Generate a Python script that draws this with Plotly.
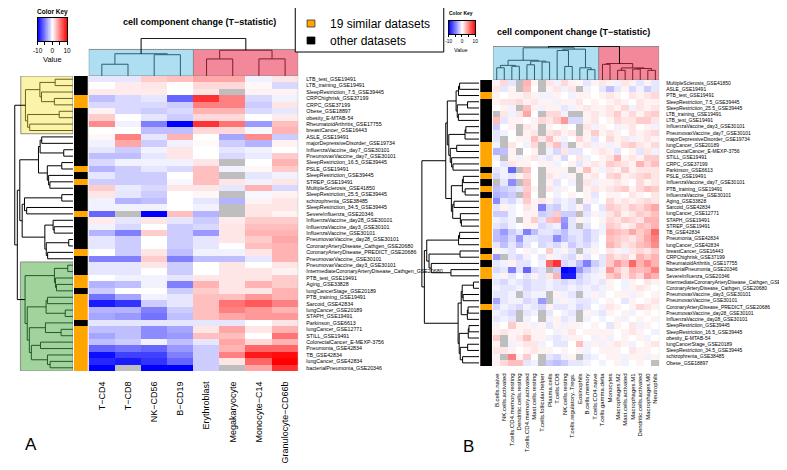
import numpy as np
import plotly.graph_objects as go

W, H = 787, 470
nan = None

# ---------------- data: panel A ----------------
cols_A = ["T−CD4", "T−CD8", "NK−CD56", "B−CD19", "Erythroblast",
          "Megakaryocyte", "Monocyte−C14", "Granulocyte−CD66b"]
rows_A = ["LTB_test_GSE19491", "LTB_training_GSE19491", "SleepRestriction_7.5_GSE39445",
          "CRPChighrisk_GSE37199", "CRPC_GSE37199", "Obese_GSE18897", "obesity_E-MTAB-54",
          "RheumatoidArthritis_GSE17755", "breastCancer_GSE16443", "ASLE_GSE19491",
          "majorDepressiveDisorder_GSE19734", "InfluenzaVaccine_day7_GSE30101",
          "PneumovaxVaccine_day7_GSE30101", "SleepRestriction_16.5_GSE39445", "PSLE_GSE19491",
          "SleepRestriction_GSE39445", "STREP_GSE19491", "MultipleSclerosis_GSE41850",
          "SleepRestriction_25.5_GSE39445", "schizophrenia_GSE38485",
          "SleepRestriction_34.5_GSE39445", "SevereInfluenza_GSE20346",
          "InfluenzaVaccine_day28_GSE30101", "InfluenzaVaccine_day3_GSE30101",
          "InfluenzaVaccine_GSE30101", "PneumovaxVaccine_day28_GSE30101",
          "CoronaryArteryDisease_Cathgen_GSE20680", "CoronaryArteryDisease_PREDICT_GSE20686",
          "PneumovaxVaccine_GSE30101", "PneumovaxVaccine_day3_GSE30101",
          "IntermediateCoronaryArteryDisease_Cathgen_GSE20680", "PTB_test_GSE19491",
          "Aging_GSE33828", "lungCancerStage_GSE20189", "PTB_training_GSE19491",
          "Sarcoid_GSE42834", "lungCancer_GSE20189", "STAPH_GSE19491", "Parkinson_GSE6613",
          "lungCancer_GSE12771", "STILL_GSE19491", "ColorectalCancer_E-MEXP-3756",
          "Pneumonia_GSE42834", "TB_GSE42834", "lungCancer_GSE42834",
          "bacterialPneumonia_GSE20346"]
vals_A = [
    [-1, -1, 2, 2.5, 3.5, 3.5, -0.5, 1],
    [0, 0.8, 1, 0, 1.5, 1.5, 0.3, -1.5],
    [0.8, 0.8, 0.8, 0, 1, nan, 0.5, 0.5],
    [-2.5, -1.5, -1, -6, 8, 5, -1.5, -0.5],
    [-1.5, -1.5, -1.5, -2, 5, 5, -2, 1],
    [0.5, -1.5, -2, -1.5, 3, 3, -1.5, -1],
    [2, 0, -1, -2, 1.5, 1.5, 0, 0.8],
    [4.5, -0.5, -5, -10, 8, 5.5, -4, 2.5],
    [0, 0, -2.5, -2.5, 1.5, 1.5, -0.3, 3],
    [0.3, 5, -1, 3, 0, -3.5, 4.5, -2],
    [-0.5, 3.5, -2, -0.5, 0.2, -2, -3, 0.5],
    [-1, -2, -0.5, 1, 0, -1, -0.5, 0],
    [-2.5, -2.5, -1, 1, 0, -1.5, -0.8, 2],
    [-1.5, -0.5, -0.5, -0.5, 1, nan, 0, 3],
    [-3, -2, -1, -1.5, 2.5, -0.5, 0.3, 2],
    [-1, -2, -2, 0, 2.5, nan, -1, -0.5],
    [-2, -2, -2, -0.3, 2.5, 1, -0.5, 1],
    [2, -0.8, -1.5, 1, 1, -1, 3, -1.5],
    [1, -1, -2, 0, 0.3, nan, -0.3, 0.5],
    [-0.5, -3, -2.5, 0, -1, -3, 0.5, 1],
    [-0.5, -0.5, -0.5, 0, -0.5, nan, 1, 1],
    [-6, nan, -10, 2.5, -3, nan, 1, 0.5],
    [0.8, -1, 1, -1, -2, 0.8, 2, 2],
    [-0.5, -1.5, 0, -2, -1.5, 1, 2.5, 2.5],
    [-3, -5, 2, -2, -4, 1, 3, 3],
    [-1, -2, 0, -2, -1, 1, 2, 3.5],
    [-1, -2, 0, -2, -1, 0, 2.5, 3],
    [0, -2, 1, -2.5, -0.5, -0.5, 1, 3],
    [-5, -5, 2, -5, -2.5, -2.5, -1, 3],
    [-1, -1, 1, -2, 0, 1, 0, 1],
    [-1, -1, 0, -2, 0, 1, 1, 0.5],
    [0, -0.5, -0.5, -1, 1, 1, 1, 2],
    [-3, -2.5, -0.5, -5, 3, 1, 3, 2],
    [-2, 0, 0, -2, 2, 1, 1, 3],
    [-5.5, -3.5, -0.5, -1, 2.5, 2.5, 4, 3],
    [-9, -8, -2, -1, 2.5, 5.5, 6.5, 5],
    [-3, -3, -5, -2, 2.5, 5, 4, 3],
    [-3.5, -4, -5.5, -2.5, 2.5, 3.5, 4, 4],
    [-1, -1, -1, -1, -1, -1, 0, 1],
    [-2.5, -2.5, -4.5, -3.5, 1, 3.5, 1, 3],
    [-3.5, -2.5, -4.5, -4, 2.5, 2.5, 0, 5.5],
    [-2.5, -2, -0.5, -2.5, -1, 3.5, 1.5, 3],
    [-6, -5.5, -6, -4, -2, 3, 6, 6],
    [-9.5, -7.5, -7.5, -5, -2, 5, 9, 9.5],
    [-8.5, -9, -8, -6, -2, 1, 6, 10],
    [-10, nan, -10, -10, -2, nan, 3.5, 8],
]

# ---------------- data: panel B ----------------
cols_B = ["B.cells.naive", "NK.cells.activated", "T.cells.CD4.memory.resting",
          "Dendritic.cells.resting", "T.cells.CD4.memory.activated", "Mast.cells.resting",
          "T.cells.follicular.helper", "Plasma.cells", "T.cells.CD8", "NK.cells.resting",
          "T.cells.regulatory..Tregs.", "Eosinophils", "B.cells.memory", "T.cells.CD4.naive",
          "T.cells.gamma.delta", "Monocytes", "Macrophages.M2", "Mast.cells.activated",
          "Macrophages.M1", "Dendritic.cells.activated", "Macrophages.M0", "Neutrophils"]
rows_B = ["MultipleSclerosis_GSE41850", "ASLE_GSE19491", "PTB_test_GSE19491",
          "SleepRestriction_7.5_GSE39445", "SleepRestriction_25.5_GSE39445",
          "LTB_training_GSE19491", "LTB_test_GSE19491", "InfluenzaVaccine_day3_GSE30101",
          "PneumovaxVaccine_day7_GSE30101", "majorDepressiveDisorder_GSE19734",
          "lungCancer_GSE20189", "ColorectalCancer_E-MEXP-3756", "STILL_GSE19491",
          "CRPC_GSE37199", "Parkinson_GSE6613", "PSLE_GSE19491",
          "InfluenzaVaccine_day7_GSE30101", "PTB_training_GSE19491",
          "InfluenzaVaccine_GSE30101", "Aging_GSE33828", "Sarcoid_GSE42834",
          "lungCancer_GSE12771", "STAPH_GSE19491", "STREP_GSE19491", "TB_GSE42834",
          "Pneumonia_GSE42834", "lungCancer_GSE42834", "breastCancer_GSE16443",
          "CRPChighrisk_GSE37199", "RheumatoidArthritis_GSE17755",
          "bacterialPneumonia_GSE20346", "SevereInfluenza_GSE20346",
          "IntermediateCoronaryArteryDisease_Cathgen_GSE20680",
          "CoronaryArteryDisease_Cathgen_GSE20680", "PneumovaxVaccine_day3_GSE30101",
          "PneumovaxVaccine_GSE30101", "CoronaryArteryDisease_PREDICT_GSE20686",
          "PneumovaxVaccine_day28_GSE30101", "InfluenzaVaccine_day28_GSE30101",
          "SleepRestriction_GSE39445", "SleepRestriction_16.5_GSE39445",
          "obesity_E-MTAB-54", "lungCancerStage_GSE20189",
          "SleepRestriction_34.5_GSE39445", "schizophrenia_GSE38485", "Obese_GSE18897"]
vals_B = [
    [0.5, 1.5, -1, nan, 3, 0.5, nan, 1, -0.5, 1.5, 0.5, 0.3, -1, 0.5, 1, 0.5, -0.5, 1, 0.5, -1, 0.5, -1],
    [1, -1, 0.5, nan, 2.5, 0, nan, 0.5, 1, -0.5, 1, nan, -0.5, 0, -1, -2.5, -1, 0.5, -1.5, -0.5, -2, -1],
    [0.5, 0, 0.5, 0.5, 1, 0.5, -0.5, -0.5, 0.5, 0, -0.5, 0.5, 0.5, 0, 0.5, 1, 0.5, 0, 1, 0.5, 1, 1.5],
    [0.5, 1, 1, 1.5, 0.5, 1, 0.5, 0.5, -0.5, 0.5, 0.5, 1, 0, 0.5, 0, 0.5, 1, 0.5, 0, 1, 0.5, 0.5],
    [0, 0.5, -0.5, nan, 2.5, 0.5, -0.5, 0.5, 0.5, -1, -0.5, 0.5, 1, 0.5, 0.5, 1, 0.5, 1.5, -0.5, 1, 0.5, 1],
    [nan, 1, -0.5, 1, 3.5, 0, nan, 1.5, 1.5, -0.5, nan, nan, 0.5, 1, 0.5, 1, 2, 0.5, 1.5, 0.5, 1.5, 2],
    [2.5, -1, 0.5, 0.5, 0, 0.5, 1.5, 1, 2, 4, -1.5, -1.5, 0.5, 1, 0, 0.5, 1.5, 1, 1, 2, 2, 1],
    [-2, 0, 0.5, nan, 1, 0.5, nan, 0.5, 0, 0.5, 0, nan, 1, -0.5, 0.5, 0, -0.5, 0.5, 1, 0, 0.5, -0.5],
    [-1, -0.5, 0, nan, 0.5, 1, nan, 1, 1.5, 0.5, 1, nan, 0.5, 2, 0.5, 1, 0.5, 0, 1, 0.5, 1, 1.5],
    [-1, nan, 0, 0.5, 0.5, 2.5, 1, 2.5, 0.5, -0.5, 0, 1.5, 0.5, -1, 0, 1.5, 0.5, 1, -0.5, 0.5, 1, 0.5],
    [-0.5, nan, 1, 0, -0.5, 1.5, nan, 1, 2.5, -1, nan, 0.5, 1, -0.5, 0.5, -0.5, 0.5, 1.5, 2, 1, 0.5, 1.5],
    [-3, -2.5, 0.5, nan, 0, 0.5, nan, -0.5, -1.5, 1, -1, -1, 0, 0.5, 1, 0.5, -1, 0, 0.5, -1, 1, -0.5],
    [-0.5, nan, 0.5, -0.5, 0.5, 1, -0.5, -1, 0.5, -1.5, 0, 1, -0.5, 0, 0.5, 1, 3, 0.5, 1, 0.5, 2, 2],
    [0, -1, 1, 0.5, 0.5, 0, 0.5, 0.5, -0.5, 0, 0.5, -1, 0.5, 1, 0.5, 2, 1.5, 1, 0.5, 3, 1.5, 2.5],
    [-1, -0.5, -6, nan, 2.5, 0, nan, 0.5, 0.5, 0.5, nan, 0.5, 2.5, 0.5, -0.5, 1, 0.5, 2, 0.5, 1, 1, 1],
    [-1.5, -0.5, -1, 0.5, 1.5, 0, nan, 1, 0.5, -0.5, 0.5, nan, 0.5, 1, 0, 1.5, 2, 0.5, 1, 1.5, 2, 1],
    [nan, -1, -4.5, nan, 2.5, 0, nan, 0.5, -1, 0, -0.5, nan, 1, -0.5, 0.5, 0.5, 1, 0.5, 0, 1.5, 0.5, 1],
    [-2.5, -2, -1.5, -1, 2, 0.5, nan, 1, -0.5, 0.5, 0, nan, 0.5, 1, 0.5, 1, 1.5, 2, 0.5, 1.5, 2.5, 2],
    [-3, -2.5, -2, nan, 2.5, 0, nan, 0, -0.5, 0, 0.5, 0, 0.5, -1, 0, 0.5, 0.5, 0, 1, 0.5, 0, 1],
    [-4.5, -1, -1.5, -0.5, 2, 0.5, 1, 0.5, -1, -0.5, -1, nan, 0.5, -0.5, 0, 1.5, 0.5, 1, 0.5, 1, 1.5, 1],
    [-1, 0.5, -0.5, 0, 1, 0.5, -5, -1.5, -2, -0.5, -1, 0.5, -1.5, 0, -1, 2, 1.5, 1, 2, 1.5, 2.5, 3.5],
    [-2, -2, -0.5, 0, 0.5, 0.5, -2, -1.5, 2, -2, -2, nan, -1, 0.5, -0.5, 1, 2, 0.5, 1, 2, 1.5, 2.5],
    [-0.5, -1, -0.5, nan, 0.5, 2, -1, 2.5, 3, -4, -1, 0.5, -0.5, 0, 0.5, 1.5, 1, 2, 1.5, 1, 3, 3],
    [-1, -1.5, -0.5, 0, 0.5, 0.5, -1.5, -1, -0.5, -4.5, -1, nan, -1, 0, -0.5, 2, 1.5, 0.5, 1, 2.5, 2, 3],
    [-2.5, -4, -2, -1, -5, -2.5, -1, -1, -1.5, -2.5, -1, -1, -2, -1, -0.5, 3, 2.5, 2, 3.5, 2, 3, 6],
    [-2.5, -3, -1.5, -4, -1, -1, -1.5, -1.5, -4.5, -2.5, -1.5, -1, -2, -1, 0, 2.5, 2, 1.5, 1, 2, 3.5, 5],
    [-1, -2.5, -1, -2.5, -1, 0, -1.5, -1, -1.5, -0.5, -2, -1, -1.5, -0.5, 0, 3, 2, 1, 1.5, 2.5, 3, 4.5],
    [0.5, -0.5, -1, 0, 0.5, -0.5, 0, 2, -0.5, 0.5, -1, nan, -0.5, 0.5, 0, 1, 0.5, -0.5, 1, 1.5, 1, 2],
    [-4, nan, -1, -1.5, -0.5, 0, -1, 0.5, -0.5, -1, -1.5, 0.5, -1, 0, -1, 2, 1, 1.5, 0.5, 3, 2, 3],
    [-1, -0.5, 0.5, -1, -1, 0, -0.5, 6, 8, -1.5, -1, -2.5, -5, -2, -1, 2, 4, 2.5, 6, 3, 4.5, 3],
    [-1.5, -1, -5, -1, -6, -1.5, -1, nan, -2, -10, -9.5, -4, -2, -1, -0.5, 4, 2, 1, 3, 2.5, 3, 5],
    [-0.5, 0.5, -1, 0, -1, 0.5, -1, 1, 3, -9, -9, -2, -1, -0.5, 0.5, 2, 3, 1, 2.5, 1.5, 4, 3],
    [-1, -1.5, -0.5, -1, -1.5, -1, -1, -0.5, -1, -1.5, -1, -1.5, -1, -0.5, -1, 0.5, 0, -0.5, 0.5, 0, 1, 0.5],
    [-0.5, -1, -1, -0.5, -1.5, -1, -1, -0.5, -1, -1, -0.5, -1, -0.5, -1, -0.5, 0.5, 0, -0.5, 0.5, 1, 0.5, 0],
    [-1, -1, -0.5, nan, -1, -0.5, -0.5, nan, 0.5, -0.5, -1, nan, -0.5, 0.5, -0.5, 0, 0.5, 0.5, -0.5, 0.5, 0, 0.5],
    [-3.5, -1, -0.5, -0.5, -1.5, -1, -4, nan, -0.5, 0.5, -0.5, -1, -1, -0.5, 0, 0.5, 0, -1, 0.5, 0, 0.5, 1],
    [-1.5, -0.5, -1, -1.5, -0.5, -1, -1.5, 0.5, -1, -1, -0.5, -1.5, -1, 0, -0.5, 1, 0.5, 0, 0.5, 1.5, 1, 0.5],
    [-0.5, -1, -1.5, nan, -1, -0.5, nan, -1, 0, -0.5, -1, nan, 0.5, -0.5, -1, 0.5, 0, 0.5, -0.5, 0, 0.5, 0],
    [-1, -0.5, -1, nan, -0.5, 0, nan, -0.5, 0.5, -1, -0.5, nan, -0.5, 0, -0.5, 0, 0.5, -0.5, 0, 0.5, 0, 0.5],
    [0.5, 0, 2, 0.5, 0.5, -0.5, 0.5, -1, 0.5, -0.5, 0.5, 0.5, 0, 0.5, 0, -1, 0.5, 0, 1, -0.5, 0.5, 0],
    [0.5, 1, 0.5, 0.5, 1, 0.5, 0.5, 0, -0.5, 0.5, 1, 0, 0.5, 0.5, 0.5, 0.5, 0, 0.5, 1, 0.5, 0, -0.5],
    [2, nan, 0.5, 1, 2.5, 0.5, 0.5, -0.5, -1, -0.5, 0.5, 0.5, 0, -0.5, 0.5, -0.5, 0, 0.5, 0, 0.5, -0.5, 0],
    [0.5, nan, -0.5, 0.5, 1, 1, -0.5, 0, -1, -1, 0, 2.5, -0.5, 0.5, -0.5, 0.5, 1, 0.5, -0.5, 0, 0.5, 1],
    [1, 1, 0.5, 0, 0.5, 1, 0.5, 0.5, 0, 0.5, 0, 0.5, -0.5, 0, 0.5, 0.5, 0.5, 0, 1, 0.5, 0.5, 0],
    [0.5, nan, 5, 0.5, 2, 0, nan, -1, -1.5, -0.5, 0.5, nan, -1, -0.5, 0, 0.5, 0.5, -0.5, 0.5, 0.5, -0.5, 0.5],
    [0.5, 1.5, 2.5, 2.5, -1, -0.5, nan, -2, -2.5, -2, -1, -1, -0.5, 0, -0.5, 0, 0.5, -0.5, 0, 0.5, 0, nan],
]

similar_datasets = ["CRPChighrisk_GSE37199", "CRPC_GSE37199", "PSLE_GSE19491", "STREP_GSE19491",
                    "SevereInfluenza_GSE20346", "CoronaryArteryDisease_PREDICT_GSE20686",
                    "PTB_test_GSE19491", "Aging_GSE33828", "PTB_training_GSE19491",
                    "Sarcoid_GSE42834", "lungCancer_GSE20189", "STAPH_GSE19491",
                    "lungCancer_GSE12771", "STILL_GSE19491", "ColorectalCancer_E-MEXP-3756",
                    "Pneumonia_GSE42834", "TB_GSE42834", "lungCancer_GSE42834",
                    "bacterialPneumonia_GSE20346"]

# dendrogram topologies (leaf indices in display order)
tree_cols_A = [[[0, 1], [2, 3]], [[4, 5], [6, 7]]]
tree_rows_A = [[[[0, 1], [2, [3, 4]]], [[5, 6], [7, 8]]],
               [[[[[9, 10], [11, 12]], [[13, 14], [15, [16, 17]]]],
                 [[[18, 19], [20, 21]], [[22, [23, 24]], [[25, 26], [27, 28]]]]],
                [[[29, 30], [31, [32, 33]]],
                 [[[34, 35], [36, 37]], [[38, [39, 40]], [[41, 42], [43, [44, 45]]]]]]]]
tree_cols_B = [[[[[0, 1], [2, 3]], [[4, 5], [6, 7]]], [[8, [9, 10]], [11, [12, 13]]]],
               [[14, 15], [[16, 17], [[18, 19], [20, 21]]]]]
_b1 = [[[0, 1], 2], [[3, 4], [5, 6]]]
_b2 = [[[7, 8], 9], [[10, 11], [12, [13, 14]]]]
_b3 = [[[15, 16], [17, 18]], [[19, 20], [21, [22, 23]]]]
_b4 = [[[24, 25], 26], [[27, 28], [29, [30, 31]]]]
_b5 = [[[32, 33], [34, 35]], [[36, 37], 38]]
_b6 = [[[39, 40], 41], [[42, 43], [44, 45]]]
tree_rows_B = [[[_b1, _b2], _b3], [_b4, [_b5, _b6]]]

# ---------------- helpers ----------------
FONT = "Liberation Sans, Arial, sans-serif"
CS = [[0, "#0000FF"], [0.5, "#FFFFFF"], [1, "#FF0000"]]
BLUE_BOX, PINK_BOX = "#ADDEF2", "#F2889A"
YEL_BOX, GRN_BOX = "#FBF3A8", "#A3D39C"


def fx(p):
    return p / W


def fy(p):
    return 1 - p / H


def to_arr(v):
    return np.array([[np.nan if c is None else float(c) for c in r] for r in v])


def pdist(a, b):
    m = ~np.isnan(a) & ~np.isnan(b)
    if m.sum() == 0:
        return 0.0
    return float(np.sqrt(np.mean((a[m] - b[m]) ** 2) * len(a)))


def build_tree(tree, M):
    segs = []

    def rec(node):
        if isinstance(node, int):
            return float(node), 0.0, [node]
        lp, lh, lm = rec(node[0])
        rp, rh, rm = rec(node[1])
        d = float(np.mean([pdist(M[i], M[j]) for i in lm for j in rm]))
        h = max(d, max(lh, rh) * 1.04 + 0.1)
        segs.append((lp, lh, rp, rh, h, frozenset(lm + rm)))
        return (lp + rp) / 2, h, lm + rm

    rec(tree)
    return segs


def group_height(segs, members):
    s = frozenset(members)
    for seg in segs:
        if seg[5] == s:
            return seg[4]
    return max(seg[4] for seg in segs if seg[5] <= s)


def dendro_traces(segs, groups, orient, xa, ya):
    buckets = {}
    for lp, lh, rp, rh, h, mem in segs:
        col = "black"
        for g in groups:
            if mem <= frozenset(g["members"]):
                col = g["line"]
        xs, ys = buckets.setdefault(col, ([], []))
        pos = [lp, lp, rp, rp, None]
        hh = [lh, h, h, rh, None]
        if orient == "top":
            xs.extend(pos); ys.extend(hh)
        else:
            xs.extend(hh); ys.extend(pos)
    return [go.Scatter(x=xs, y=ys, mode="lines", line=dict(color=c, width=1),
                       xaxis=xa, yaxis=ya, hoverinfo="skip", showlegend=False)
            for c, (xs, ys) in buckets.items()]


MA = to_arr(vals_A)
MB = to_arr(vals_B)
nA, mA = MA.shape
nB, mB = MB.shape

fig = go.Figure()
shapes = []
annotations = []


def heat(M, xa, ya):
    return go.Heatmap(z=M, x=list(range(M.shape[1])), y=list(range(M.shape[0])),
                      colorscale=CS, zmin=-10, zmax=10, showscale=False,
                      xaxis=xa, yaxis=ya, hoverinfo="skip")


def sidebar(rows, xa, ya):
    z = [[1 if r in similar_datasets else 0] for r in rows]
    return go.Heatmap(z=z, x=[0], y=list(range(len(rows))), zmin=0, zmax=1,
                      colorscale=[[0, "black"], [0.5, "black"], [0.5, "#FFA500"], [1, "#FFA500"]],
                      showscale=False, xaxis=xa, yaxis=ya, hoverinfo="skip")


# ---------------- panel A ----------------
fig.add_trace(heat(MA, "x", "y"))
fig.add_trace(sidebar(rows_A, "x2", "y"))

segs_cA = build_tree(tree_cols_A, MA.T)
grp_cA = [dict(members=list(range(0, 4)), fill=BLUE_BOX, line="#2D5F6E"),
          dict(members=list(range(4, 8)), fill=PINK_BOX, line="#7A1F2E")]
root_cA = segs_cA[-1][4]
top_cA = max(group_height(segs_cA, g["members"]) for g in grp_cA) * 1.03
for g in grp_cA:
    shapes.append(dict(type="rect", xref="x", yref="y2", x0=min(g["members"]) - 0.5,
                       x1=max(g["members"]) + 0.5, y0=0, y1=top_cA, fillcolor=g["fill"],
                       line=dict(color="#8C8C8C", width=1), layer="below"))
for t in dendro_traces(segs_cA, grp_cA, "top", "x", "y2"):
    fig.add_trace(t)

segs_rA = build_tree(tree_rows_A, MA)
grp_rA = [dict(members=list(range(0, 9)), fill=YEL_BOX, line="#6B6020"),
          dict(members=list(range(29, 46)), fill=GRN_BOX, line="#1F5A2A")]
root_rA = segs_rA[-1][4]
for g in grp_rA:
    gh = group_height(segs_rA, g["members"])
    shapes.append(dict(type="rect", xref="x3", yref="y", x0=0, x1=gh + 0.08 * root_rA,
                       y0=min(g["members"]) - 0.5, y1=max(g["members"]) + 0.5,
                       fillcolor=g["fill"], line=dict(color="#8C8C8C", width=1), layer="below"))
for t in dendro_traces(segs_rA, grp_rA, "left", "x3", "y"):
    fig.add_trace(t)

# ---------------- panel B ----------------
fig.add_trace(heat(MB, "x4", "y3"))
fig.add_trace(sidebar(rows_B, "x5", "y3"))

segs_cB = build_tree(tree_cols_B, MB.T)
grp_cB = [dict(members=list(range(0, 14)), fill=BLUE_BOX, line="#2D5F6E"),
          dict(members=list(range(14, 22)), fill=PINK_BOX, line="#7A1F2E")]
root_cB = segs_cB[-1][4]
top_cB = max(group_height(segs_cB, g["members"]) for g in grp_cB) * 1.04
for g in grp_cB:
    shapes.append(dict(type="rect", xref="x4", yref="y4", x0=min(g["members"]) - 0.5,
                       x1=max(g["members"]) + 0.5, y0=0, y1=top_cB, fillcolor=g["fill"],
                       line=dict(color="#8C8C8C", width=1), layer="below"))
for t in dendro_traces(segs_cB, grp_cB, "top", "x4", "y4"):
    fig.add_trace(t)

segs_rB = build_tree(tree_rows_B, MB)
root_rB = segs_rB[-1][4]
for t in dendro_traces(segs_rB, [], "left", "x6", "y3"):
    fig.add_trace(t)

# NaN background (grey) behind heatmaps
for xr, yr in (("x domain", "y domain"), ("x4 domain", "y3 domain")):
    shapes.append(dict(type="rect", xref=xr, yref=yr, x0=0, x1=1, y0=0, y1=1,
                       fillcolor="#BEBEBE", line=dict(width=0), layer="below"))

# ---------------- color keys ----------------
key_x = np.linspace(-10, 10, 101)
fig.add_trace(go.Heatmap(z=[key_x], x=key_x, y=[0], colorscale=CS, zmin=-10, zmax=10,
                         showscale=False, xaxis="x7", yaxis="y5", hoverinfo="skip"))
fig.add_trace(go.Heatmap(z=[key_x], x=key_x, y=[0], colorscale=CS, zmin=-10, zmax=10,
                         showscale=False, xaxis="x8", yaxis="y6", hoverinfo="skip"))

hidden = dict(visible=False, showgrid=False, zeroline=False)


def keyx(dom, anchor, fs, tl):
    return dict(domain=dom, anchor=anchor, range=[-10, 10], tickmode="array",
                tickvals=[-10, -5, 0, 5, 10], ticktext=["-10", "", "0", "", "10"],
                ticks="outside", ticklen=tl, tickwidth=1, tickcolor="black",
                tickfont=dict(size=fs, family=FONT, color="black"), showline=True,
                mirror=True, linecolor="black", linewidth=1, showgrid=False, zeroline=False)


def keyy(dom, anchor):
    return dict(domain=dom, anchor=anchor, range=[-0.5, 0.5], showticklabels=False,
                ticks="", showline=True, mirror=True, linecolor="black", linewidth=1,
                showgrid=False, zeroline=False)


layout = dict(
    width=W, height=H, margin=dict(l=0, r=0, t=0, b=0),
    paper_bgcolor="white", plot_bgcolor="rgba(0,0,0,0)", showlegend=False,
    font=dict(family=FONT, color="black"),
    # panel A heatmap
    xaxis=dict(domain=[fx(77), fx(290)], anchor="y", range=[-0.5, mA - 0.5],
               tickmode="array", tickvals=list(range(mA)), ticktext=cols_A, tickangle=-90,
               ticks="outside", ticklen=6, tickcolor="rgba(0,0,0,0)",
               tickfont=dict(size=9, family=FONT), showgrid=False, zeroline=False,
               showline=False),
    yaxis=dict(domain=[fy(363), fy(68)], anchor="x", range=[nA - 0.5, -0.5], side="right",
               tickmode="array", tickvals=list(range(nA)), ticktext=rows_A,
               ticks="outside", ticklen=6, tickcolor="rgba(0,0,0,0)",
               tickfont=dict(size=5.3, family=FONT), showgrid=False, zeroline=False),
    xaxis2=dict(domain=[fx(62), fx(76)], anchor="y", range=[-0.5, 0.5], **hidden),
    xaxis3=dict(domain=[fx(0), fx(61)], anchor="y", range=[root_rA * 1.03, 0], **hidden),
    yaxis2=dict(domain=[fy(68), fy(30)], anchor="x", range=[0, root_cA * 1.01], **hidden),
    # panel B heatmap
    xaxis4=dict(domain=[fx(488), fx(657)], anchor="y3", range=[-0.5, mB - 0.5],
                tickmode="array", tickvals=list(range(mB)), ticktext=cols_B, tickangle=-90,
                ticks="outside", ticklen=4, tickcolor="rgba(0,0,0,0)",
                tickfont=dict(size=6, family=FONT), showgrid=False, zeroline=False),
    yaxis3=dict(domain=[fy(358), fy(72)], anchor="x4", range=[nB - 0.5, -0.5], side="right",
                tickmode="array", tickvals=list(range(nB)), ticktext=rows_B,
                ticks="outside", ticklen=5, tickcolor="rgba(0,0,0,0)",
                tickfont=dict(size=5, family=FONT), showgrid=False, zeroline=False),
    xaxis5=dict(domain=[fx(475), fx(487)], anchor="y3", range=[-0.5, 0.5], **hidden),
    xaxis6=dict(domain=[fx(414), fx(474)], anchor="y3", range=[root_rB * 1.03, 0], **hidden),
    yaxis4=dict(domain=[fy(72), fy(38)], anchor="x4", range=[0, root_cB * 1.01], **hidden),
    # color keys
    xaxis7=keyx([fx(25), fx(55)], "y5", 6.5, 3),
    yaxis5=keyy([fy(33), fy(10)], "x7"),
    xaxis8=keyx([fx(443), fx(470)], "y6", 4.8, 2),
    yaxis6=keyy([fy(26), fy(13)], "x8"),
)

# legend box
shapes.append(dict(type="rect", xref="paper", yref="paper", x0=fx(287), x1=fx(438),
                   y0=fy(44), y1=fy(-1), fillcolor="white",
                   line=dict(color="black", width=1), layer="above"))
shapes.append(dict(type="rect", xref="paper", yref="paper", x0=fx(299), x1=fx(307),
                   y0=fy(19), y1=fy(12), fillcolor="#FFA500",
                   line=dict(color="#333333", width=0.8), layer="above"))
shapes.append(dict(type="rect", xref="paper", yref="paper", x0=fx(299), x1=fx(307),
                   y0=fy(36), y1=fy(29), fillcolor="black",
                   line=dict(color="black", width=0.8), layer="above"))


def ann(text, x, y, size, xanchor="center", bold=False):
    annotations.append(dict(text=f"<b>{text}</b>" if bold else text, x=fx(x), y=fy(y),
                            xref="paper", yref="paper", showarrow=False, xanchor=xanchor,
                            yanchor="middle", font=dict(size=size, family=FONT, color="black")))


ann("19 similar datasets", 320, 15.5, 12, "left")
ann("other datasets", 320, 32.5, 12, "left")
ann("cell component change (T−statistic)", 190, 14, 9, bold=True)
ann("cell component change (T−statistic)", 570, 24, 9, bold=True)
ann("Color Key", 40, 4, 6.5, bold=True)
ann("Value", 40, 52, 7.5)
ann("Color Key", 456, 5, 5, bold=True)
ann("Value", 456, 42, 5.5)
ann("A", 18, 436, 17)
ann("B", 463, 438, 17)

layout["shapes"] = shapes
layout["annotations"] = annotations
fig.update_layout(**layout)
fig.write_html("out.html")
